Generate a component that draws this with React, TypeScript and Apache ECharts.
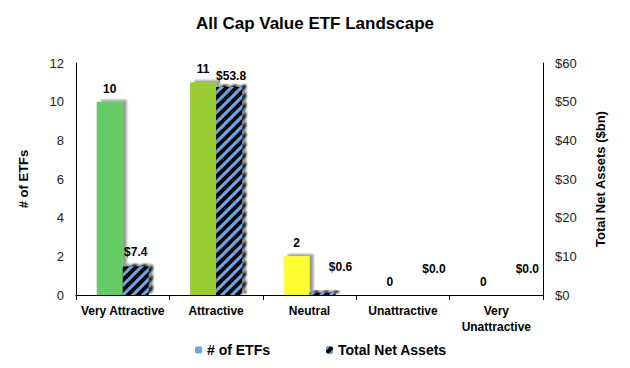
import React, { useEffect, useRef } from "react";
import * as echarts from "echarts";

const categories = ["Very Attractive", "Attractive", "Neutral", "Unattractive", "Very\nUnattractive"];
const etfCounts = [10, 11, 2, 0, 0];
const netAssets = [7.4, 53.8, 0.6, 0.0, 0.0];
const barColors = ["#66CC66", "#99CC33", "#FFFF33", "#FF9933", "#FF3333"];
const leftTicks = { min: 0, max: 12, interval: 2 };
const rightTicks = { min: 0, max: 60, interval: 10 };

const FONT = "Liberation Sans, Arial, sans-serif";

export default function App() {
  const ref = useRef<HTMLDivElement>(null);
  useEffect(() => {
    document.body.style.margin = "0";
    const chart = echarts.init(ref.current!, null, { renderer: "svg" });
    const shadow = {
      shadowColor: "rgba(0,0,0,0.4)",
      shadowBlur: 2,
      shadowOffsetX: 4,
      shadowOffsetY: -2,
    };
    chart.setOption({
      animation: false,
      backgroundColor: "#ffffff",
      title: {
        text: "All Cap Value ETF Landscape",
        left: "center",
        top: 10,
        textStyle: { fontFamily: FONT, fontSize: 17, fontWeight: "bold", color: "#000" },
      },
      legend: {
        bottom: 6,
        left: 190,
        itemGap: 56,
        itemWidth: 7,
        itemHeight: 7,
        textStyle: { fontFamily: FONT, fontSize: 14, fontWeight: "bold", color: "#000" },
        data: ["# of ETFs", "Total Net Assets"],
      },
      grid: { left: 76, right: 87, top: 63, bottom: 73 },
      xAxis: {
        type: "category",
        data: categories,
        axisLine: { lineStyle: { color: "#000" } },
        axisTick: { show: true, length: 5, lineStyle: { color: "#000" } },
        axisLabel: {
          fontFamily: FONT,
          fontSize: 12,
          fontWeight: "bold",
          color: "#000",
          margin: 8,
          interval: 0,
          lineHeight: 16,
        },
      },
      yAxis: [
        {
          type: "value",
          min: leftTicks.min,
          max: leftTicks.max,
          interval: leftTicks.interval,
          name: "# of ETFs",
          nameLocation: "middle",
          nameGap: 46,
          nameTextStyle: { fontFamily: FONT, fontSize: 13, fontWeight: "bold", color: "#000" },
          axisLine: { show: true, lineStyle: { color: "#000" } },
          axisTick: { show: false },
          splitLine: { show: false },
          axisLabel: { fontFamily: FONT, fontSize: 13, color: "#222", margin: 12 },
        },
        {
          type: "value",
          min: rightTicks.min,
          max: rightTicks.max,
          interval: rightTicks.interval,
          name: "Total Net Assets ($bn)",
          nameLocation: "middle",
          nameGap: 51,
          nameRotate: 90,
          nameTextStyle: { fontFamily: FONT, fontSize: 13, fontWeight: "bold", color: "#000" },
          axisLine: { show: true, lineStyle: { color: "#000" } },
          axisTick: { show: false },
          splitLine: { show: false },
          axisLabel: {
            fontFamily: FONT,
            fontSize: 13,
            color: "#222",
            margin: 12,
            formatter: (v: number) => "$" + v,
          },
        },
      ],
      series: [
        {
          name: "# of ETFs",
          type: "bar",
          yAxisIndex: 0,
          barWidth: 26,
          barGap: "0%",
          itemStyle: { color: "#6CA6E8", ...shadow },
          data: etfCounts.map((v, i) => ({
            value: v,
            itemStyle: { color: barColors[i], ...shadow },
          })),
          label: {
            show: true,
            position: "top",
            distance: 7,
            fontFamily: FONT,
            fontSize: 12,
            fontWeight: "bold",
            color: "#000",
          },
        },
        {
          name: "Total Net Assets",
          type: "bar",
          yAxisIndex: 1,
          barWidth: 26,
          barGap: "0%",
          itemStyle: {
            color: "#000000",
            ...shadow,
            decal: {
              symbol: "rect",
              symbolSize: 1,
              color: "#6CA6E8",
              dashArrayX: [1, 0],
              dashArrayY: [3, 4],
              rotation: -Math.PI / 4,
            },
          },
          data: netAssets.map((v, i) => ({
            value: v,
            label:
              v < 5
                ? { offset: [18, -15] }
                : i === 0
                ? { offset: [0, -3] }
                : { offset: [2, 0] },
          })),
          label: {
            show: true,
            position: "top",
            distance: 5,
            fontFamily: FONT,
            fontSize: 12,
            fontWeight: "bold",
            color: "#000",
            formatter: (p: any) => "$" + Number(p.value).toFixed(1),
          },
        },
      ],
    });
    return () => chart.dispose();
  }, []);
  return <div ref={ref} style={{ width: 630, height: 368 }} />;
}
